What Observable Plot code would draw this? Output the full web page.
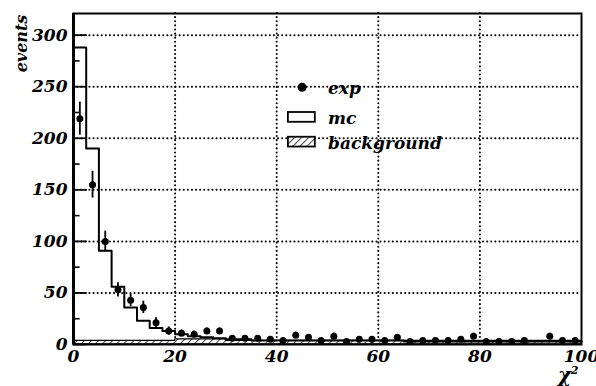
<!DOCTYPE html>
<html><head><meta charset="utf-8">
<script src="https://cdn.jsdelivr.net/npm/d3@7"></script>
<script src="https://cdn.jsdelivr.net/npm/@observablehq/plot@0.6"></script>
<style>
html,body{margin:0;padding:0;background:#fff;}
</style>
</head><body><div id="chart"></div>
<script>
// bin edges / centers (chi^2)
const binEdges = [0,2.5,5,7.5,10,12.5,15,17.5,20,22.5,25,27.5,30,32.5,35,37.5,40,42.5,45,47.5,50,52.5,55,57.5,60,62.5,65,67.5,70,72.5,75,77.5,80,82.5,85,87.5,90,92.5,95,97.5,100];
const binCenters = [1.25,3.75,6.25,8.75,11.25,13.75,16.25,18.75,21.25,23.75,26.25,28.75,31.25,33.75,36.25,38.75,41.25,43.75,46.25,48.75,51.25,53.75,56.25,58.75,61.25,63.75,66.25,68.75,71.25,73.75,76.25,78.75,81.25,83.75,86.25,88.75,91.25,93.75,96.25,98.75];
// experimental events per bin and their errors
const expEvents = [219,155,100,53,43,36,21,13,11,10,13,13,6,6,6,5,4,9,7,4,8,3,5,5,4,7,3,4,4,4,5,8,3,3,3,4,null,8,4,4];
const expErrors = [16,13,10,7,6,6,5,4,3,3,3,3,2,2,2,2,2,3,2,2,3,2,2,2,2,2,2,2,2,2,2,3,2,2,2,2,0,3,2,2];
// Monte Carlo histogram
const mcEvents = [288,190,91,56,36,23,16,13,10,8,7,6,5,5,4,4,4,4,4,4,4,4,4,4,4,4,3,3,3,3,3,3,3,3,3,3,3,3,3,3];
// background histogram
const bgEvents = [3.5,3.5,3.5,3.5,3.5,3.5,3.5,3.5,5,5,5,5,3.5,3.5,3.5,3.5,3.5,3.5,3.5,3.5,3.5,3.5,3.5,3.5,3.5,3.5,3.5,3.5,3.5,3.5,3.5,3.5,3.5,3.5,3.5,3.5,3.5,3.5,3.5,3.5];
// axes
const yTicks = [0,50,100,150,200,250,300];
const yMinorTicks = [25,75,125,175,225,275];
const xTicks = [0,20,40,60,80,100];
const gridX = [20,40,60,80];
const gridY = [50,100,150,200,250,300];
const legendLabels = ["exp","mc","background"];

const expData = binCenters.map((x,i)=>({x, y: expEvents[i], e: expErrors[i]})).filter(d=>d.y!=null);
const mcStep = binEdges.map((x,i)=>({x, y: mcEvents[Math.min(i, mcEvents.length-1)]}));
const bgStep = binEdges.map((x,i)=>({x, y: bgEvents[Math.min(i, bgEvents.length-1)]}));

const font = "DejaVu Serif";

const svg = Plot.plot({
  width: 596, height: 386,
  marginTop: 13, marginRight: 15, marginBottom: 42, marginLeft: 73,
  style: {fontFamily: font, fontStyle: "italic", fontWeight: "bold", background: "white", color: "black"},
  x: {domain: [0,100]},
  y: {domain: [0,321]},
  marks: [
    Plot.ruleX(gridX, {x: d=>d, stroke:"black", strokeWidth:2, strokeDasharray:"0.1 4", strokeLinecap:"round"}),
    Plot.ruleY(gridY, {y: d=>d, stroke:"black", strokeWidth:2, strokeDasharray:"0.1 4", strokeLinecap:"round"}),
    Plot.areaY(bgStep, {x:"x", y:"y", curve:"step-after", fill:"url(#hatch)", stroke:"black", strokeWidth:1.3}),
    Plot.line(mcStep, {x:"x", y:"y", curve:"step-after", stroke:"black", strokeWidth:2}),
    Plot.ruleX(expData, {x:"x", y1: d=>d.y-d.e, y2: d=>d.y+d.e, stroke:"black", strokeWidth:1.8}),
    Plot.dot(expData, {x:"x", y:"y", r:3.5, fill:"black"}),
    Plot.ruleY(yTicks, {y: d=>d, x1: 0, x2: 2.7, stroke:"black", strokeWidth:1.8}),
    Plot.ruleY(yMinorTicks, {y: d=>d, x1: 0, x2: 1.3, stroke:"black", strokeWidth:1.6}),
    Plot.axisY({ticks: yTicks, tickSize: 0, tickPadding: 6, fontSize: 17, fontWeight:"bold", fontStyle:"italic", fontFamily: font, label: null}),
    Plot.axisX({ticks: xTicks, tickSize: 0, tickPadding: 5, fontSize: 17, fontWeight:"bold", fontStyle:"italic", fontFamily: font, label: null}),
    Plot.frame({stroke:"black", strokeWidth:2}),
    Plot.ruleX([0], {stroke:"black", strokeWidth:3}),
    // legend
    Plot.dot([legendLabels[0]], {x: 45, y: 249.5, r: 4.5, fill: "black"}),
    Plot.rect([legendLabels[1]], {x1: 42.3, x2: 47.6, y1: 215.5, y2: 225, fill: "white", stroke: "black", strokeWidth: 1.8}),
    Plot.rect([legendLabels[2]], {x1: 42.3, x2: 47.6, y1: 191.5, y2: 201, fill: "url(#hatch)", stroke: "black", strokeWidth: 1.8}),
    Plot.text(legendLabels, {x: 50.1, y: [248.5, 219, 195], text: d=>d, textAnchor: "start", fontSize: 17, fill: "black"}),
    // axis titles
    Plot.text(["events"], {frameAnchor: "top-left", textAnchor: "middle", lineAnchor: "middle", dx: -52, dy: 30, rotate: -90, fontSize: 16, fill: "black"}),
    Plot.text(["χ"], {frameAnchor: "bottom-right", textAnchor: "middle", lineAnchor: "middle", dx: -17, dy: 31, fontSize: 20, fill: "black"}),
    Plot.text(["2"], {frameAnchor: "bottom-right", textAnchor: "middle", lineAnchor: "middle", dx: -7, dy: 26, fontSize: 11, fill: "black"})
  ]
});

const ns = "http://www.w3.org/2000/svg";
const defs = document.createElementNS(ns, "defs");
defs.innerHTML = '<pattern id="hatch" patternUnits="userSpaceOnUse" width="5" height="5" patternTransform="rotate(45)"><rect width="5" height="5" fill="white"/><line x1="0" y1="0" x2="0" y2="5" stroke="black" stroke-width="1.4"/></pattern>';
svg.insertBefore(defs, svg.firstChild);
document.getElementById("chart").appendChild(svg);
</script>
</body></html>
